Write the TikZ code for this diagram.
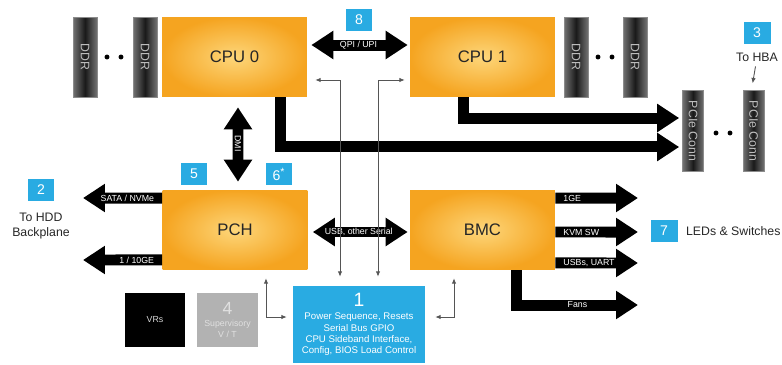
\documentclass[tikz,border=0pt]{standalone}
\usepackage{fontspec}
\setmainfont{Liberation Sans}
\usepackage{graphicx}
\usetikzlibrary{arrows.meta}
\definecolor{chipout}{RGB}{245,164,32}
\definecolor{chipin}{RGB}{253,214,122}
\definecolor{tagblue}{RGB}{41,171,226}
\definecolor{supgray}{RGB}{178,178,178}
\definecolor{sigline}{RGB}{85,85,85}
\begin{document}
\begin{tikzpicture}[
  x=0.02cm, y=-0.02cm,
  >={Triangle[width=0.54cm,length=0.44cm]},
  sigtip/.tip={Latex[length=3pt,width=2.6pt]},
  chip/.style={inner color=chipin, outer color=chipout, minimum width=2.9cm, minimum height=1.6cm, font=\fontsize{9.5}{11}\selectfont, text=black!85},
  ddr/.style={draw=black!45, left color=black!55, right color=black!55, middle color=black!90, minimum width=0.48cm, minimum height=1.6cm, inner sep=0pt, text=black!25, font=\fontsize{7}{8}\selectfont},
  conn/.style={ddr, minimum width=0.42cm, minimum height=1.62cm},
  tag/.style={fill=tagblue, text=white, minimum width=0.54cm, minimum height=0.44cm, inner sep=0pt, font=\fontsize{8}{9}\selectfont},
  mgmt/.style={fill=tagblue, text=white, minimum width=2.64cm, minimum height=1.54cm, inner sep=1pt, align=center, font=\fontsize{5.5}{6.4}\selectfont},
  vrbox/.style={fill=black, text=black!15, minimum width=1.2cm, minimum height=1.08cm, font=\fontsize{5}{6}\selectfont},
  supbox/.style={fill=supgray, text=black!12, minimum width=1.22cm, minimum height=1.08cm, inner sep=1pt, align=center, font=\fontsize{5}{6}\selectfont},
  txt/.style={text=black!85, inner sep=1pt, font=\fontsize{7}{8.5}\selectfont},
  fat/.style={line width=0.22cm, draw=black, line join=miter},
  flbl/.style={text=white, inner sep=1.5pt, font=\fontsize{5}{6}\selectfont},
  sig/.style={line width=0.5pt, draw=sigline, sigtip-sigtip}
]
  \useasboundingbox (0,0) rectangle (782,365);

  % Bloques principales
  \node[chip] (cpu0) at (234.5,57) {CPU 0};
  \node[chip] (cpu1) at (482.5,57) {CPU 1};
  \node[chip] (pch) at (235,230) {PCH};
  \node[chip] (bmc) at (482.5,230) {BMC};

  % Memorias DDR y conectores PCIe
  \foreach \n/\x in {a/85, b/145, c/576, d/635}
    \node[ddr] (ddr\n) at (\x,57) {\rotatebox{-90}{DDR}};
  \foreach \n/\x in {a/693, b/753.5}
    \node[conn] (pcie\n) at (\x,131) {\rotatebox{-90}{PCIe Conn}};
  \foreach \x/\y in {107/57, 121/57, 598/57, 612/57, 716/133, 730/133}
    \fill (\x,\y) circle (1.4pt);

  % Bloque de gestion, VRs y supervision
  \node[mgmt] (pwr) at (359,324.5) {{\fontsize{11}{12}\selectfont 1}\\[1pt]Power Sequence, Resets\\Serial Bus GPIO\\CPU Sideband Interface,\\Config, BIOS Load Control};
  \node[vrbox] (vrs) at (155,320) {VRs};
  \node[supbox] (sup) at (227.5,320) {{\fontsize{10}{11}\selectfont 4}\\[1pt]Supervisory\\V / T};

  % Etiquetas numeradas
  \node[tag] (t8) at (359,20) {8};
  \node[tag] (t3) at (757,33) {3};
  \node[tag] (t5) at (194,174) {5};
  \node[tag] (t6) at (279,174) {6\textsuperscript{*}};
  \node[tag] (t2) at (41,190) {2};
  \node[tag] (t7) at (664,231) {7};
  \node[txt] (hba) at (757,57) {To HBA};
  \node[txt, align=center] (hdd) at (41,226) {To HDD\\Backplane};
  \node[txt, anchor=west] (leds) at (684,231) {LEDs \& Switches};

  % Extremos libres de los buses
  \coordinate (sata) at (83,198);
  \coordinate (gbe) at (83,260);
  \coordinate (ge) at (638,198);
  \coordinate (kvm) at (638,232);
  \coordinate (uart) at (638,263);
  \coordinate (fans) at (638,305);

  % Buses gruesos
  \draw[fat, <->, shorten <=0.08cm, shorten >=0.04cm] ([yshift=0.24cm]cpu0.east) -- ([yshift=0.24cm]cpu1.west) node[flbl, midway] {QPI / UPI};
  \draw[fat, <->, shorten <=0.2cm, shorten >=0.16cm] ([xshift=0.07cm]cpu0.south) -- ([xshift=0.06cm]pch.north) node[flbl, midway, rotate=-90] {DMI};
  \draw[fat, <->, shorten <=0.1cm, shorten >=0.04cm] ([yshift=-0.04cm]pch.east) -- ([yshift=-0.04cm]bmc.west) node[flbl, midway] {USB, other Serial};
  \draw[fat, ->, shorten >=0.06cm] ([xshift=0.93cm]cpu0.south) |- ([yshift=-0.32cm]pciea.west);
  \draw[fat, ->, shorten >=0.06cm] ([xshift=-0.39cm]cpu1.south) |- ([yshift=0.26cm]pciea.west);
  \draw[fat, ->] ([yshift=0.64cm]pch.west) -- (sata) node[flbl, pos=0, anchor=east] {SATA / NVMe};
  \draw[fat, ->] ([yshift=-0.6cm]pch.west) -- (gbe) node[flbl, pos=0, anchor=east] {1 / 10GE};
  \draw[fat, ->] ([yshift=0.64cm]bmc.east) -- (ge) node[flbl, pos=0, anchor=west] {1GE};
  \draw[fat, ->] ([yshift=-0.04cm]bmc.east) -- (kvm) node[flbl, pos=0, anchor=west] {KVM SW};
  \draw[fat, ->] ([yshift=-0.66cm]bmc.east) -- (uart) node[flbl, pos=0, anchor=west] {USBs, UART};
  \draw[fat, ->] ([xshift=0.69cm]bmc.south) |- (fans) node[flbl, pos=0.75] {Fans};

  % Senales finas hacia el bloque de gestion
  \draw[sig, shorten <=0.16cm, shorten >=0.18cm] ([yshift=-0.46cm]cpu0.east) -| ([xshift=-0.38cm]pwr.north);
  \draw[sig, shorten <=0.1cm, shorten >=0.18cm] ([yshift=-0.46cm]cpu1.west) -| ([xshift=0.38cm]pwr.north);
  \draw[sig, shorten <=0.16cm, shorten >=0.12cm] ([xshift=0.62cm]pch.south) |- ([yshift=0.15cm]pwr.west);
  \draw[sig, shorten <=0.16cm, shorten >=0.2cm] ([xshift=-0.57cm]bmc.south) |- ([yshift=0.15cm]pwr.east);
  \draw[sig, -sigtip, shorten <=0.06cm, shorten >=0.14cm] ([xshift=-0.02cm]hba.south) -- ([xshift=-0.04cm]pcieb.north);
\end{tikzpicture}
\end{document}
